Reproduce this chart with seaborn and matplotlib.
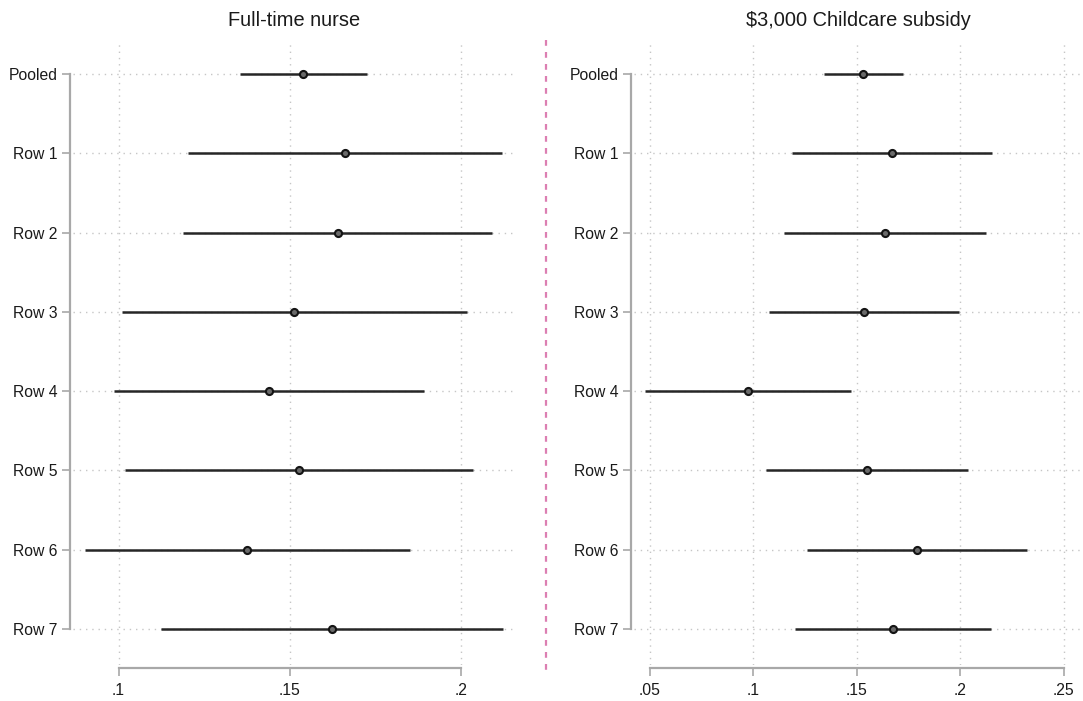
import numpy as np
import pandas as pd
import matplotlib
matplotlib.use("Agg")
import matplotlib.pyplot as plt
from matplotlib.lines import Line2D
import seaborn as sns

# ---- data ----
rows = ["Pooled", "Row 1", "Row 2", "Row 3", "Row 4", "Row 5", "Row 6", "Row 7"]

nurse_est = [0.1540, 0.1661, 0.1640, 0.1513, 0.1439, 0.1526, 0.1375, 0.1624]
nurse_lo = [0.1354, 0.1203, 0.1189, 0.1009, 0.0987, 0.1020, 0.0901, 0.1123]
nurse_hi = [0.1727, 0.2121, 0.2092, 0.2017, 0.1893, 0.2036, 0.1850, 0.2124]

subsidy_est = [0.1530, 0.1669, 0.1637, 0.1534, 0.0973, 0.1548, 0.1790, 0.1676]
subsidy_lo = [0.1342, 0.1188, 0.1149, 0.1076, 0.0476, 0.1060, 0.1258, 0.1202]
subsidy_hi = [0.1722, 0.2151, 0.2126, 0.1995, 0.1471, 0.2039, 0.2321, 0.2150]

titles = ["Full-time nurse", "$3,000 Childcare subsidy"]
nurse_ticks = [0.10, 0.15, 0.20]
nurse_ticklabels = [".1", ".15", ".2"]
subsidy_ticks = [0.05, 0.10, 0.15, 0.20, 0.25]
subsidy_ticklabels = [".05", ".1", ".15", ".2", ".25"]

sns.set_theme(style="white")
plt.rcParams["font.family"] = ["Liberation Sans", "DejaVu Sans"]

fig = plt.figure(figsize=(10.83, 7.01), dpi=100)

W, H = 1083, 701
def box(x0, x1, ytop, ybot):
    return [x0 / W, (H - ybot) / H, (x1 - x0) / W, (ybot - ytop) / H]

ax1 = fig.add_axes(box(73, 516, 41, 665))
ax2 = fig.add_axes(box(634, 1083, 41, 665))

panels = [
    (ax1, nurse_est, nurse_lo, nurse_hi, nurse_ticks, nurse_ticklabels, (0.0867, 0.2161)),
    (ax2, subsidy_est, subsidy_lo, subsidy_hi, subsidy_ticks, subsidy_ticklabels, (0.0424, 0.2593)),
]

grid_kw = dict(color="#c6c6c6", linewidth=1.0, linestyle=(0, (1, 3.5)), zorder=0)
spine_color = "#a8a8a8"

for i, (ax, est, lo, hi, ticks, ticklabels, xlim) in enumerate(panels):
    df = pd.DataFrame({"row": rows, "pos": np.arange(len(rows)), "est": est, "lo": lo, "hi": hi})
    # gridlines
    for t in ticks:
        ax.axvline(t, **grid_kw)
    for p in df["pos"]:
        ax.axhline(p, **grid_kw)
    # confidence intervals
    ax.hlines(df["pos"], df["lo"], df["hi"], color="#262626", linewidth=1.8, zorder=2)
    # point estimates
    sns.scatterplot(data=df, x="est", y="pos", ax=ax, marker="o", s=26,
                    color="#6a6a6a", edgecolor="#141414", linewidth=1.5, zorder=3, legend=False)
    ax.set_xlim(*xlim)
    ax.set_ylim(len(rows) - 1 + 0.454, -0.416)
    ax.set_yticks(df["pos"])
    ax.set_yticklabels(rows)
    ax.set_xticks(ticks)
    ax.set_xticklabels(ticklabels)
    ax.set_xlabel("")
    ax.set_ylabel("")
    ax.set_title(titles[i], fontsize=14.4, pad=11, color="#1a1a1a")
    for s in ["top", "right"]:
        ax.spines[s].set_visible(False)
    for s in ["left", "bottom"]:
        ax.spines[s].set_color(spine_color)
        ax.spines[s].set_linewidth(1.6)
    ax.spines["left"].set_position(("outward", 2))
    ax.spines["bottom"].set_position(("outward", 2))
    ax.spines["left"].set_bounds(0, len(rows) - 1)
    ax.spines["bottom"].set_bounds(ticks[0], ticks[-1])
    ax.tick_params(axis="both", which="both", direction="out", length=6, width=1.2,
                   color=spine_color, labelsize=11.3, labelcolor="#1a1a1a",
                   left=True, bottom=True)
    ax.tick_params(axis="y", pad=3)
    ax.tick_params(axis="x", pad=5)
    ax.set_facecolor("white")

# separating dashed pink line
fig.add_artist(Line2D([545.7 / W, 545.7 / W], [(H - 40) / H, (H - 670) / H],
                      transform=fig.transFigure, color="#dc7fb2", linewidth=1.6,
                      linestyle=(0, (2.6, 2.8))))

fig.savefig("out.png", dpi=100, facecolor="white")
